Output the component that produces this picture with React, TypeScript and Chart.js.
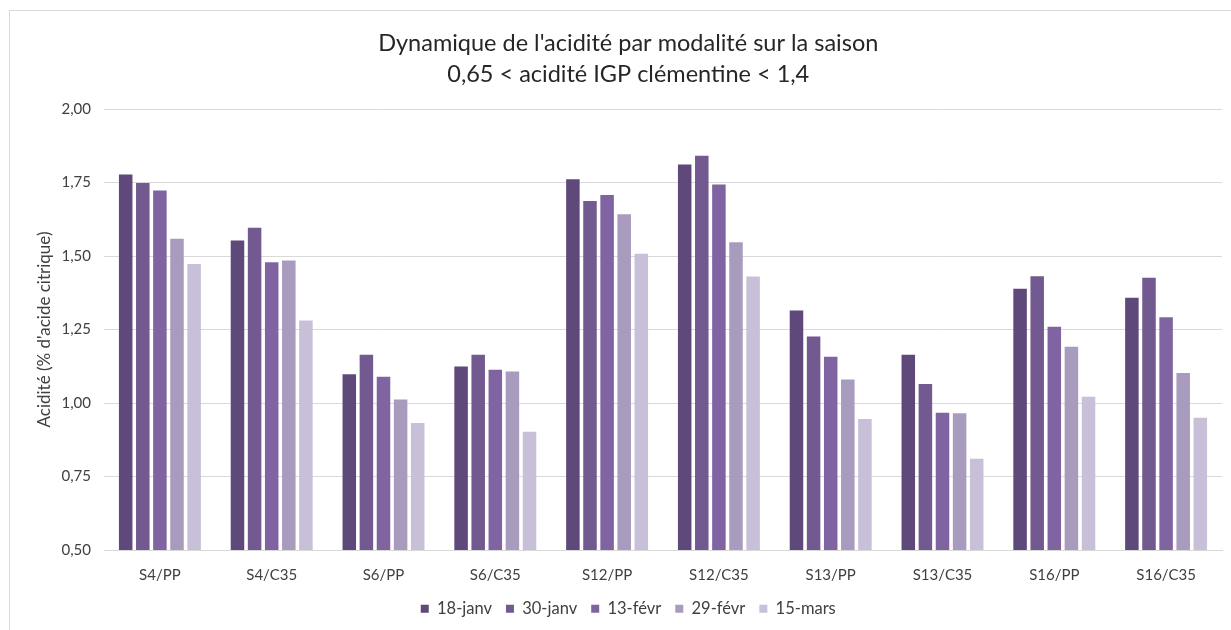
import React, { useEffect, useRef } from 'react';
import { Chart, registerables } from 'chart.js';
Chart.register(...registerables);

const categories = ['S4/PP', 'S4/C35', 'S6/PP', 'S6/C35', 'S12/PP', 'S12/C35', 'S13/PP', 'S13/C35', 'S16/PP', 'S16/C35'];
const seriesLabels = ['18-janv', '30-janv', '13-févr', '29-févr', '15-mars'];
const janv18 = [1.777, 1.553, 1.098, 1.124, 1.761, 1.811, 1.315, 1.164, 1.389, 1.358];
const janv30 = [1.748, 1.596, 1.164, 1.164, 1.687, 1.841, 1.226, 1.065, 1.431, 1.426];
const fevr13 = [1.723, 1.479, 1.089, 1.113, 1.708, 1.743, 1.157, 0.967, 1.259, 1.292];
const fevr29 = [1.559, 1.485, 1.012, 1.107, 1.642, 1.547, 1.080, 0.965, 1.191, 1.102];
const mars15 = [1.473, 1.281, 0.932, 0.902, 1.508, 1.430, 0.946, 0.810, 1.021, 0.950];
const colors = ['#5F497A', '#72598F', '#8064A2', '#A99BBE', '#C8BFD8'];
const titleLines = ["Dynamique de l'acidité par modalité sur la saison", '0,65 < acidité IGP clémentine < 1,4'];
const yTitle = "Acidité (% d'acide citrique)";

const FONT = 'Lato';

export default function App() {
  const ref = useRef<HTMLCanvasElement>(null);
  useEffect(() => {
    const allSeries = [janv18, janv30, fevr13, fevr29, mars15];
    const chart = new Chart(ref.current!, {
      type: 'bar',
      data: {
        labels: categories,
        datasets: allSeries.map((d, i) => ({
          label: seriesLabels[i],
          data: d,
          backgroundColor: colors[i],
          borderWidth: 0,
          categoryPercentage: 0.765,
          barPercentage: 0.79,
        })),
      },
      options: {
        responsive: false,
        animation: false,
        devicePixelRatio: 1,
        layout: { padding: { left: 25.5, right: 19, top: 0, bottom: 13 } },
        plugins: {
          title: {
            display: true,
            text: titleLines,
            color: '#262626',
            font: { family: FONT, size: 23.5, weight: 'normal', lineHeight: 1.32 },
            padding: { top: 17.5, bottom: 19.5 },
          },
          legend: {
            position: 'bottom',
            labels: {
              boxWidth: 8,
              boxHeight: 8,
              padding: 14,
              color: '#404040',
              font: { family: FONT, size: 16.5 },
            },
          },
          tooltip: { enabled: false },
        },
        scales: {
          x: {
            afterFit: (scale: any) => { scale.height = 36.5; },
            grid: { display: false, drawTicks: false },
            border: { display: true, color: '#d9d9d9', width: 1 },
            ticks: { color: '#404040', font: { family: FONT, size: 15 }, padding: 16.5 },
          },
          y: {
            min: 0.5,
            max: 2,
            afterFit: (scale: any) => { scale.width = 69.5; },
            grid: { color: '#d9d9d9', lineWidth: 1, drawTicks: false },
            border: { display: false },
            ticks: {
              stepSize: 0.25,
              color: '#404040',
              padding: 13,
              font: { family: FONT, size: 15 },
              callback: (v: any) => Number(v).toFixed(2).replace('.', ','),
            },
            title: {
              display: true,
              text: yTitle,
              color: '#404040',
              padding: 0,
              font: { family: FONT, size: 17 },
            },
          },
        },
      },
    });
    return () => chart.destroy();
  }, []);
  return (
    <>
      <div style={{ position: 'fixed', left: 9, top: 10, width: 1300, height: 700, border: '1px solid #d9d9d9', boxSizing: 'border-box' }} />
      <canvas ref={ref} width={1232} height={630} style={{ position: 'fixed', left: 9, top: 10, width: 1232, height: 630 }} />
    </>
  );
}
